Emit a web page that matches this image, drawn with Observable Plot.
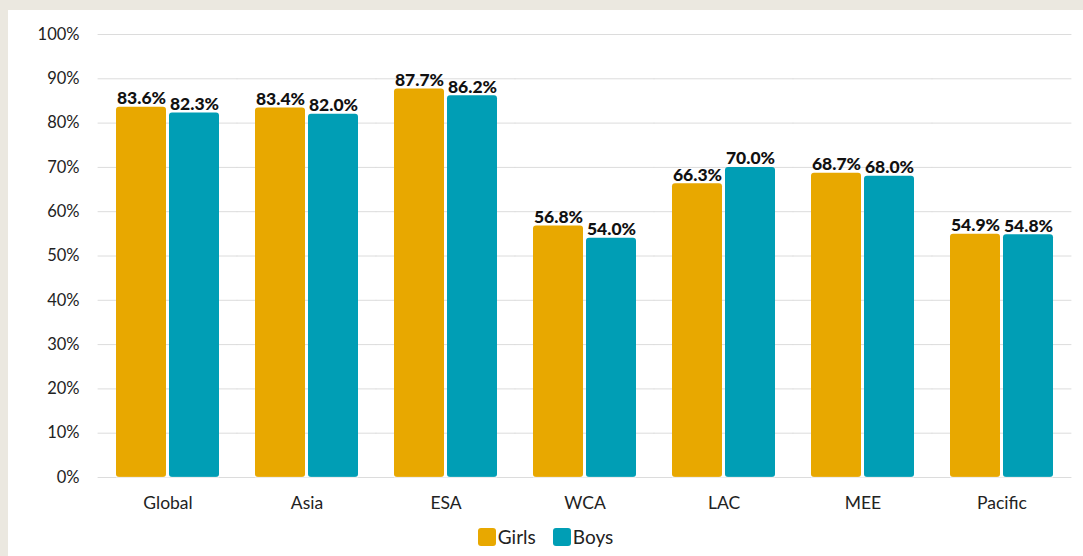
<!DOCTYPE html>
<html>
<head>
<meta charset="utf-8">
<script src="https://cdn.jsdelivr.net/npm/d3@7"></script>
<script src="https://cdn.jsdelivr.net/npm/@observablehq/plot@0.6"></script>
<style>
  html, body { margin: 0; padding: 0; }
  body { width: 1083px; height: 556px; background: #ebe8e0; position: relative; overflow: hidden; font-family: Lato, "Noto Sans", sans-serif; }
  #panel { position: absolute; left: 8px; top: 10px; width: 1075px; height: 546px; background: #fff; }
  #legend { position: absolute; left: 0; width: 1075px; top: 515px; display: flex; justify-content: center; align-items: center; gap: 17px; font-size: 19px; color: #222; }
  .item { display: flex; align-items: center; gap: 2px; }
  .sw { width: 18px; height: 18px; border-radius: 3px; display: inline-block; }
</style>
</head>
<body>
<div id="panel"></div>
<script>
const regions = ["Global", "Asia", "ESA", "WCA", "LAC", "MEE", "Pacific"];
const series = ["Girls", "Boys"];
const girls = [83.6, 83.4, 87.7, 56.8, 66.3, 68.7, 54.9];
const boys = [82.3, 82.0, 86.2, 54.0, 70.0, 68.0, 54.8];
const yTicks = [0, 10, 20, 30, 40, 50, 60, 70, 80, 90, 100];
const colors = ["#e8a800", "#009eb5"];

const data = regions.flatMap((r, i) => [
  {region: r, series: "Girls", value: girls[i]},
  {region: r, series: "Boys", value: boys[i]}
]);

const chart = Plot.plot({
  width: 1075,
  height: 505,
  marginLeft: 89,
  marginRight: 11,
  marginTop: 24,
  marginBottom: 38,
  style: {fontFamily: "Lato, 'Noto Sans', sans-serif", fontSize: "16.5px", color: "#222", background: "transparent"},
  fx: {domain: regions, paddingInner: 0.26, paddingOuter: 0.13, label: null},
  x: {domain: series, paddingInner: 0.06, paddingOuter: 0, axis: null},
  y: {domain: [0, 100], label: null},
  color: {domain: series, range: colors},
  marks: [
    Plot.ruleY(yTicks, {y: d => d, stroke: "#dcdcdc", strokeWidth: 1, insetLeft: -18.4, insetRight: -18.4}),
    Plot.barY(data, {fx: "region", x: "series", y: "value", fill: "series", rx: 3}),
    Plot.ruleY([0], {y: d => d, stroke: "#ffffff", strokeOpacity: 0.45, strokeWidth: 1.5}),
    Plot.text(data, {fx: "region", x: "series", y: "value", text: d => d.value.toFixed(1) + "%", lineAnchor: "bottom", dy: -3, fontWeight: 900, fontSize: 17.5, fill: "#111"}),
    Plot.axisY({ticks: yTicks, tickSize: 0, tickPadding: 37, tickFormat: d => d + "%", label: null, fill: "#222"}),
    Plot.axisFx({anchor: "bottom", tickSize: 0, tickPadding: 19, label: null, fill: "#222", fontSize: 17.5})
  ]
});

const panel = document.getElementById("panel");
panel.appendChild(chart);

const legend = document.createElement("div");
legend.id = "legend";
series.forEach((s, i) => {
  const item = document.createElement("div");
  item.className = "item";
  const sw = document.createElement("span");
  sw.className = "sw";
  sw.style.background = colors[i];
  const lab = document.createElement("span");
  lab.textContent = s;
  item.appendChild(sw);
  item.appendChild(lab);
  legend.appendChild(item);
});
panel.appendChild(legend);
</script>
</body>
</html>
